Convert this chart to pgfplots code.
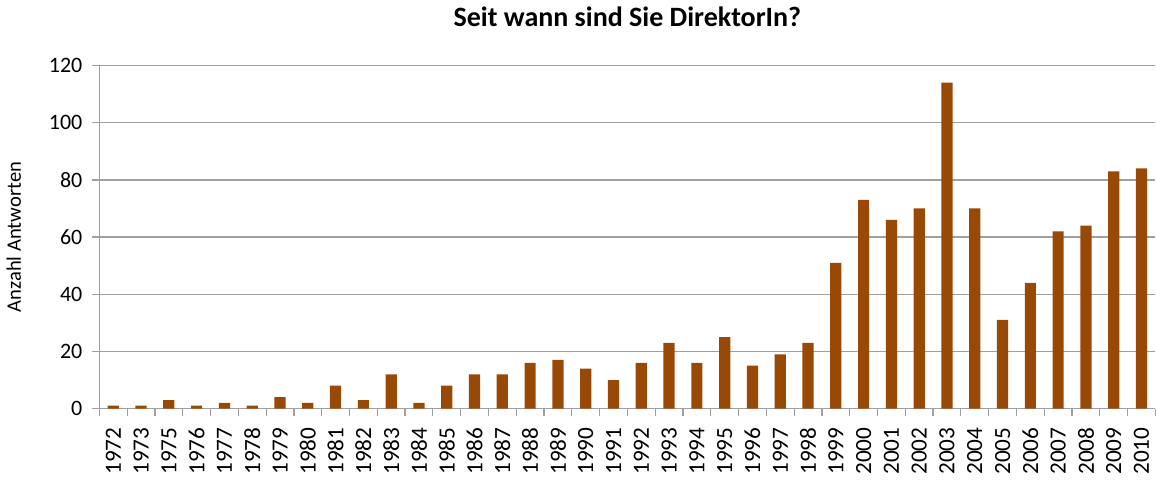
\documentclass[border=0pt]{standalone}
\usepackage{pgfplots}
\pgfplotsset{compat=1.18}
\usepackage{fontspec}
\setmainfont{Carlito}
\definecolor{barbrown}{RGB}{153,73,6}
\definecolor{axgray}{RGB}{160,160,160}
\begin{document}
\begin{tikzpicture}
\begin{axis}[
  scale only axis,
  width=528pt, height=171.5pt,
  ymin=0, ymax=120,
  xmin=-0.5, xmax=37.5,
  ytick={0,20,...,120},
  xtick={0,...,37},
  xticklabels={1972,1973,1975,1976,1977,1978,1979,1980,1981,1982,1983,1984,1985,1986,1987,1988,1989,1990,1991,1992,1993,1994,1995,1996,1997,1998,1999,2000,2001,2002,2003,2004,2005,2006,2007,2008,2009,2010},
  minor xtick={-0.5,0.5,...,37.5},
  x tick label style={rotate=90, anchor=east, font=\fontsize{11.6}{13}\selectfont, xshift=-2.5pt},
  y tick label style={font=\fontsize{11}{12}\selectfont, xshift=-1.5pt},
  /pgf/number format/assume math mode=true,
  major x tick style={draw=none},
  minor x tick style={axgray, line width=0.6pt},
  minor tick length=3.5pt,
  major tick length=3.5pt,
  y tick style={axgray, line width=0.6pt},
  tick align=outside,
  xtick pos=bottom, ytick pos=left,
  ymajorgrids,
  major grid style={axgray, line width=0.6pt},
  axis x line*=bottom,
  axis y line*=left,
  axis line style={axgray, line width=0.6pt},
  ylabel={Anzahl Antworten},
  ylabel style={font=\fontsize{10.3}{12}\selectfont, yshift=7pt},
  title={\textbf{Seit wann sind Sie DirektorIn?}},
  title style={font=\fontsize{14}{16}\selectfont, yshift=10pt},
  ybar, bar width=5.6pt,
]
\addplot[fill=barbrown, draw=none] coordinates {
(0,1) (1,1) (2,3) (3,1) (4,2) (5,1) (6,4) (7,2) (8,8) (9,3)
(10,12) (11,2) (12,8) (13,12) (14,12) (15,16) (16,17) (17,14) (18,10) (19,16)
(20,23) (21,16) (22,25) (23,15) (24,19) (25,23) (26,51) (27,73) (28,66) (29,70)
(30,114) (31,70) (32,31) (33,44) (34,62) (35,64) (36,83) (37,84)
};
\end{axis}
\end{tikzpicture}
\end{document}
